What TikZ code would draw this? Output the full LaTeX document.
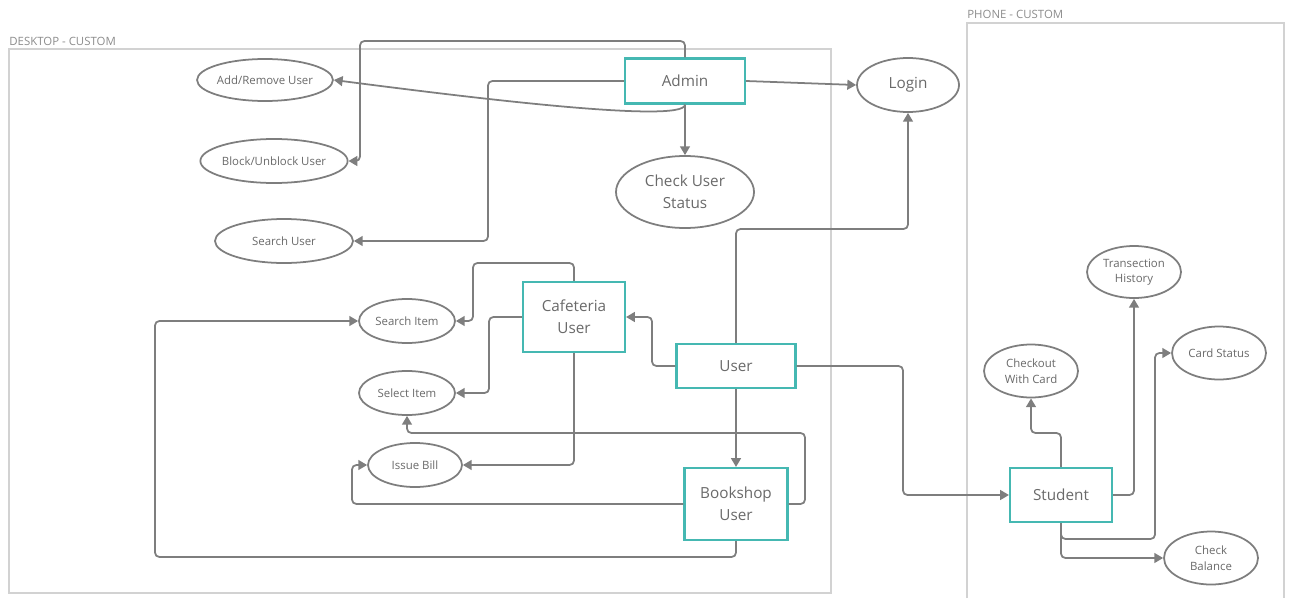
\documentclass[tikz,border=0pt]{standalone}
\usepackage{fontspec}
\setmainfont{Open Sans}
\usetikzlibrary{arrows.meta,shapes.geometric}
\definecolor{linegray}{HTML}{7E7E7E}
\definecolor{textgray}{HTML}{6A6A6A}
\definecolor{framegray}{HTML}{D2D2D2}
\definecolor{labelgray}{HTML}{8C8C8C}
\definecolor{boxteal}{HTML}{45B8B2}
\newdimen\upx \upx=0.02cm
\begin{document}
\begin{tikzpicture}[x=0.02cm,y=-0.02cm,
  conn/.style={draw=linegray,line width=1pt,rounded corners=2.5pt,-{Triangle[length=5pt,width=5.6pt]}},
  actor/.style={rectangle,draw=boxteal,line width=1.2pt,fill=white,text=textgray,
    font=\fontsize{8.7}{12.3}\selectfont,align=center,inner sep=0pt},
  usecase/.style={ellipse,draw=linegray,line width=1pt,fill=white,text=textgray,
    font=\fontsize{6.5}{8.9}\selectfont,align=center,inner sep=0pt},
  bigcase/.style={usecase,font=\fontsize{8.7}{12.3}\selectfont},
  framebox/.style={draw=framegray,line width=0.7pt},
  framelabel/.style={text=labelgray,font=\fontsize{6.5}{8}\selectfont,anchor=base west,inner sep=0pt}
]
\useasboundingbox (0,0) rectangle (1290,598);

% frames
\draw[framebox] (9,49) rectangle (831,593);
\node[framelabel] (desklabel) at (9,46) {DESKTOP - CUSTOM};
\draw[framebox] (967,598) -- (967,23) -- (1284,23) -- (1284,598);
\node[framelabel] (phonelabel) at (967,19) {PHONE - CUSTOM};

% actors
\node[actor,minimum width=120\upx,minimum height=45\upx] (admin) at (685,81) {Admin};
\node[actor,minimum width=102\upx,minimum height=70\upx] (cafe) at (574,317) {Cafeteria\\User};
\node[actor,minimum width=119\upx,minimum height=44\upx] (user) at (736,366) {User};
\node[actor,minimum width=103\upx,minimum height=72\upx] (bookshop) at (736,504) {Bookshop\\User};
\node[actor,minimum width=102\upx,minimum height=54\upx] (student) at (1061,495) {Student};

% use cases
\node[usecase,minimum width=120\upx,minimum height=42\upx] (addrem) at (265,80) {Add/Remove User};
\node[usecase,minimum width=138\upx,minimum height=44\upx] (block) at (274,161) {Block/Unblock User};
\node[usecase,minimum width=138\upx,minimum height=44\upx] (searchuser) at (284,241) {Search User};
\node[bigcase,minimum width=138\upx,minimum height=72\upx] (checkstatus) at (685,192) {Check User\\Status};
\node[bigcase,minimum width=102\upx,minimum height=54\upx] (login) at (908,85) {Login};
\node[usecase,minimum width=96\upx,minimum height=44\upx] (searchitem) at (407,321) {Search Item};
\node[usecase,minimum width=96\upx,minimum height=44\upx] (selectitem) at (407,393) {Select Item};
\node[usecase,minimum width=94\upx,minimum height=44\upx] (issuebill) at (415,465) {Issue Bill};
\node[usecase,minimum width=94\upx,minimum height=52\upx] (transhist) at (1134,272) {Transection\\History};
\node[usecase,minimum width=94\upx,minimum height=53\upx] (checkout) at (1031,371) {Checkout\\With Card};
\node[usecase,minimum width=94\upx,minimum height=53\upx] (cardstatus) at (1219,353) {Card Status};
\node[usecase,minimum width=94\upx,minimum height=53\upx] (checkbal) at (1211,558) {Check\\Balance};

% admin connectors
\draw[conn] (admin.north) |- (360,41) |- (block.east);
\draw[conn] (admin.south) .. controls (685,125) and (450,95) .. (addrem.east);
\draw[conn] (admin.west) -| (488,241) -- (searchuser.east);
\draw[conn] (admin.east) -- (login.west);
\draw[conn] (admin.south) -- (checkstatus.north);

% user connectors
\draw[conn] (user.north) |- (908,229) -- (login.south);
\draw[conn] (user.west) -| (652,317) -- (cafe.east);
\draw[conn] (user.south) -- (bookshop.north);
\draw[conn] (user.east) -| (903,495) -- (student.west);

% cafeteria connectors
\draw[conn] (cafe.north) |- (473,263) |- (searchitem.east);
\draw[conn] (cafe.west) -| (489,393) -- (selectitem.east);
\draw[conn] (cafe.south) |- (issuebill.east);

% bookshop connectors
\draw[conn] (bookshop.west) -| (352,465) -- (issuebill.west);
\draw[conn] (bookshop.east) -| (805,433) -| (selectitem.south);
\draw[conn] (bookshop.south) |- (155,557) |- (searchitem.west);

% student connectors
\draw[conn] (student.north) |- (1031,433) -- (checkout.south);
\draw[conn] (student.east) -| (transhist.south);
\draw[conn] (student.south) |- (1155,539) |- (cardstatus.west);
\draw[conn] (student.south) |- (checkbal.west);
\end{tikzpicture}
\end{document}
